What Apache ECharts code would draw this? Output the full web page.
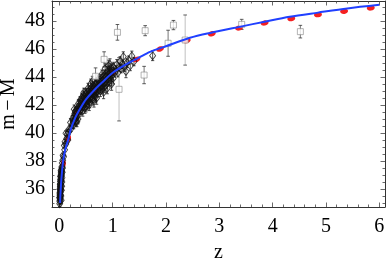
<!DOCTYPE html>
<html><head><meta charset="utf-8">
<script src="https://cdn.jsdelivr.net/npm/echarts@6/dist/echarts.min.js"></script>
<style>html,body{margin:0;padding:0;background:#fff}#c{width:389px;height:259px}</style>
</head><body><div id="c"></div>
<script>
// ---- tick positions ----
const xTicks = [0, 1, 2, 3, 4, 5, 6];
const xMinorTicks = [0.2,0.4,0.6,0.8,1.2,1.4,1.6,1.8,2.2,2.4,2.6,2.8,3.2,3.4,3.6,3.8,4.2,4.4,4.6,4.8,5.2,5.4,5.6,5.8];
const yTicks = [36, 38, 40, 42, 44, 46, 48];
const yMinorTicks = [35,35.5,36.5,37,37.5,38.5,39,39.5,40.5,41,41.5,42.5,43,43.5,44.5,45,45.5,46.5,47,47.5,48.5,49];

// ---- model curve (blue) ----
const modelZ  = [0.015,0.02,0.026,0.035,0.05,0.064,0.08,0.107,0.14,0.17,0.21,0.3,0.4,0.5,0.64,0.8,1.0,1.25,1.5,1.7,2.0,2.45,2.83,3.4,3.85,4.32,4.85,5.4,6.0];
const modelMu = [35.0,35.5,35.9,36.5,37.2,37.75,38.2,38.75,39.2,39.55,40.2,41.1,41.8,42.4,43.0,43.6,44.3,44.9,45.4,45.8,46.2,46.8,47.15,47.6,47.95,48.3,48.6,48.9,49.16];

// ---- red dashed-model marks ----
const redZ  = [0.026,0.075,0.17,0.34,0.64,1.0,1.45,1.89,2.39,2.86,3.37,3.85,4.35,4.85,5.34,5.84];
const redMu = [35.9,37.8,39.6,41.45,43.0,44.3,45.26,46.0,46.6,47.09,47.5,47.86,48.17,48.45,48.69,48.93];

// ---- SN Ia points [z, m-M, error] ----
const snPoints = [
[0.008,34.95,0.2],[0.01,35.1,0.2],[0.011,35.35,0.18],[0.012,35.2,0.2],[0.013,35.55,0.18],[0.014,35.4,0.18],[0.015,35.75,0.17],[0.016,35.6,0.17],
[0.017,35.95,0.16],[0.018,35.8,0.16],[0.019,36.15,0.16],[0.02,36.0,0.15],[0.021,36.35,0.15],[0.022,36.2,0.15],[0.023,36.55,0.15],[0.024,36.4,0.15],
[0.026,36.7,0.15],[0.027,36.55,0.15],[0.029,36.85,0.15],[0.03,36.7,0.15],[0.032,37.0,0.15],[0.034,36.9,0.15],[0.036,37.2,0.15],[0.038,37.1,0.15],
[0.04,37.35,0.15],[0.043,37.25,0.15],[0.046,37.5,0.15],[0.05,37.6,0.15],[0.012,35.7,0.2],[0.015,35.3,0.2],[0.018,36.3,0.16],[0.022,35.9,0.15],
[0.025,36.9,0.15],[0.028,36.3,0.15],[0.033,37.3,0.15],[0.009,35.4,0.2],[0.02,35.55,0.15],[0.016,36.05,0.15],[0.035,36.6,0.15],[0.042,37.0,0.15],
[0.045,36.2,0.15],[0.05,36.8,0.15],[0.055,37.2,0.15],[0.04,35.9,0.15],[0.03,35.5,0.15],[0.048,36.5,0.15],[0.06,37.5,0.15],[0.035,35.2,0.2],
[0.055,37.85,0.15],[0.064,38.05,0.15],[0.07,38.4,0.15],[0.08,38.3,0.15],[0.094,39.1,0.15],[0.1,38.8,0.15],[0.107,39.38,0.15],[0.12,39.2,0.18],
[0.125,39.98,0.18],[0.14,39.6,0.2],[0.15,39.9,0.2],[0.16,39.5,0.2],[0.17,40.05,0.2],[0.19,40.3,0.2],[0.21,40.74,0.3],[0.22,40.3,0.2],
[0.24,40.6,0.25],[0.25,41.0,0.25],[0.31,40.8,0.35],
[0.26,40.8,0.25],[0.27,41.2,0.25],[0.28,40.9,0.3],[0.29,41.4,0.25],[0.3,41.0,0.3],[0.31,41.3,0.25],[0.32,41.6,0.3],[0.33,41.2,0.3],
[0.34,41.5,0.25],[0.35,41.8,0.3],[0.36,41.3,0.3],[0.37,41.7,0.25],[0.38,42.0,0.3],[0.39,41.6,0.3],[0.4,41.9,0.3],
[0.28,41.7,0.3],[0.33,40.8,0.35],[0.36,42.1,0.3],[0.3,41.55,0.25],[0.27,40.6,0.3],[0.35,41.0,0.35],[0.39,42.3,0.3],
[0.41,42.2,0.3],[0.42,41.7,0.35],[0.43,42.0,0.3],[0.44,42.4,0.3],[0.45,41.9,0.3],[0.46,42.2,0.3],[0.47,42.6,0.3],[0.48,42.1,0.3],
[0.49,42.4,0.3],[0.5,42.8,0.35],[0.5,42.2,0.3],[0.51,42.5,0.3],[0.52,42.0,0.35],[0.53,42.7,0.3],[0.54,42.4,0.3],[0.55,43.0,0.35],
[0.55,42.3,0.3],[0.56,42.6,0.3],[0.57,42.9,0.3],[0.58,42.5,0.3],[0.59,42.8,0.3],[0.6,43.2,0.35],[0.6,42.6,0.3],[0.61,42.9,0.3],
[0.62,43.1,0.3],[0.62,42.5,0.35],[0.63,43.4,0.3],[0.64,42.8,0.3],[0.65,43.0,0.3],[0.66,43.3,0.3],[0.66,42.7,0.35],[0.67,43.1,0.3],
[0.68,43.5,0.35],[0.69,42.9,0.3],[0.7,43.2,0.3],[0.7,43.6,0.35],[0.71,42.9,0.35],[0.72,43.4,0.3],[0.73,43.1,0.3],[0.74,43.7,0.35],[0.75,43.3,0.3],
[0.42,42.5,0.3],[0.45,42.7,0.3],[0.48,41.8,0.4],[0.52,42.9,0.3],[0.57,42.2,0.4],[0.63,42.4,0.4],[0.68,42.6,0.4],[0.72,43.8,0.35],[0.46,42.9,0.3],
[0.44,41.6,0.4],[0.5,41.9,0.4],[0.54,43.2,0.35],[0.59,43.5,0.35],[0.65,42.3,0.45],[0.7,42.5,0.45],[0.62,43.7,0.35],[0.56,42.0,0.4],
[0.76,43.6,0.3],[0.77,43.0,0.4],[0.78,43.9,0.3],[0.79,43.4,0.3],[0.8,43.7,0.3],[0.81,43.2,0.4],[0.82,44.0,0.3],[0.83,43.5,0.3],
[0.84,43.9,0.3],[0.85,43.3,0.4],[0.86,44.2,0.3],[0.87,43.7,0.3],[0.88,44.0,0.3],[0.89,43.5,0.35],[0.9,44.4,0.35],[0.91,43.9,0.3],
[0.92,44.2,0.3],[0.93,43.7,0.35],[0.94,44.5,0.35],[0.95,44.0,0.3],[0.96,44.3,0.3],[0.97,43.8,0.4],[0.98,44.6,0.35],[0.99,44.1,0.3],
[1.0,44.4,0.3],[1.01,43.9,0.4],[1.02,44.7,0.35],[1.04,44.3,0.3],
[0.8,44.2,0.3],[0.9,43.2,0.4],[0.95,44.9,0.4],[0.86,44.6,0.35],[0.78,43.3,0.4],[0.83,42.9,0.45],[0.92,44.8,0.4],[0.98,43.5,0.45],
[1.06,44.5,0.3],[1.08,44.9,0.35],[1.1,44.3,0.3],[1.12,44.7,0.3],[1.14,45.1,0.35],[1.16,44.6,0.3],[1.18,44.9,0.3],[1.2,45.45,0.35],
[1.22,44.7,0.3],[1.25,44.4,0.45],[1.27,45.0,0.3],[1.3,45.2,0.3],[1.33,44.8,0.35],[1.36,45.5,0.35],[1.4,45.1,0.3],[1.75,45.52,0.35]
];

// ---- GRB points [z, m-M, error] ----
const grbPoints = [
[1.09,47.19,0.56],[1.61,47.31,0.36],[2.14,47.71,0.33],[2.04,46.41,0.93],[2.36,46.64,1.79],[0.84,45.26,0.54],
[1.59,44.14,0.62],[1.12,43.12,2.26],[3.42,47.76,0.36],[4.52,47.24,0.45],[0.68,44.05,0.6]
];

const font = 'Liberation Serif, Times New Roman, serif';
const xMin = -0.137, xMax = 6.107, yMin = 34.71, yMax = 49.43;
const frameColor = '#333';

function xAxisDef(pos, ticks, len, showLine, labels) {
  return {
    type: 'value', gridIndex: 0, position: pos, min: xMin, max: xMax,
    axisLine: { show: showLine, onZero: false, lineStyle: { color: frameColor, width: 1 } },
    axisTick: { show: true, inside: true, length: len, customValues: ticks, lineStyle: { color: '#444', width: 0.8 } },
    axisLabel: labels ? { show: true, customValues: ticks, margin: 10, fontFamily: font, fontSize: 20, color: '#000' } : { show: false },
    splitLine: { show: false }, minorTick: { show: false }
  };
}
function yAxisDef(pos, ticks, len, showLine, labels) {
  return {
    type: 'value', gridIndex: 0, position: pos, min: yMin, max: yMax,
    axisLine: { show: showLine, onZero: false, lineStyle: { color: frameColor, width: 1 } },
    axisTick: { show: true, inside: true, length: len, customValues: ticks, lineStyle: { color: '#444', width: 0.8 } },
    axisLabel: labels ? { show: true, customValues: ticks, margin: 7, fontFamily: font, fontSize: 20, color: '#000' } : { show: false },
    splitLine: { show: false }, minorTick: { show: false }
  };
}

const xAxes = [
  Object.assign(xAxisDef('bottom', xTicks, 4.5, true, true), { name: 'z', nameLocation: 'middle', nameGap: 36, nameMoveOverlap: false, nameTextStyle: { fontFamily: font, fontSize: 20, color: '#000' } }),
  xAxisDef('bottom', xMinorTicks, 2.5, false, false),
  xAxisDef('top', xTicks, 4.5, true, false),
  xAxisDef('top', xMinorTicks, 2.5, false, false)
];
const yAxes = [
  Object.assign(yAxisDef('left', yTicks, 4.5, true, true), { name: 'm\u2006\u2212\u2006M', nameLocation: 'middle', nameGap: 33, nameMoveOverlap: false, nameTextStyle: { fontFamily: font, fontSize: 20, color: '#000' } }),
  yAxisDef('left', yMinorTicks, 2.5, false, false),
  yAxisDef('right', yTicks, 4.5, true, false),
  yAxisDef('right', yMinorTicks, 2.5, false, false)
];

function errBar(barColorFn, capColor, capW) {
  return function (params, api) {
    const x = api.value(0), y = api.value(1), e = api.value(2);
    const t = api.coord([x, y + e]), b = api.coord([x, y - e]);
    const c = barColorFn(e);
    const lw = 0.8;
    return { type: 'group', children: [
      { type: 'line', shape: { x1: t[0], y1: t[1], x2: b[0], y2: b[1] }, style: { stroke: c, lineWidth: lw } },
      { type: 'line', shape: { x1: t[0] - capW, y1: t[1], x2: t[0] + capW, y2: t[1] }, style: { stroke: capColor, lineWidth: lw } },
      { type: 'line', shape: { x1: b[0] - capW, y1: b[1], x2: b[0] + capW, y2: b[1] }, style: { stroke: capColor, lineWidth: lw } }
    ] };
  };
}

const chart = echarts.init(document.getElementById('c'), null, { renderer: 'canvas' });
chart.setOption({
  animation: false,
  backgroundColor: '#fff',
  grid: { left: 52, right: 4, top: 1, bottom: 52, containLabel: false, outerBoundsMode: 'none' },
  xAxis: xAxes,
  yAxis: yAxes,
  series: [
    { type: 'custom', name: 'snErr', xAxisIndex: 0, yAxisIndex: 0, clip: true,
      data: snPoints, encode: { x: 0, y: 1 },
      renderItem: errBar(function () { return '#222'; }, '#222', 1.6) },
    { type: 'scatter', name: 'SN', xAxisIndex: 0, yAxisIndex: 0, clip: true,
      data: snPoints.map(p => [p[0], p[1]]),
      symbol: 'diamond', symbolSize: [6, 8],
      itemStyle: { color: 'rgba(0,0,0,0)', borderColor: '#111', borderWidth: 0.9 } },
    { type: 'custom', name: 'grbErr', xAxisIndex: 0, yAxisIndex: 0, clip: true,
      data: grbPoints, encode: { x: 0, y: 1 },
      renderItem: errBar(function (e) { return e > 1.5 ? '#b0b0b0' : '#555'; }, '#333', 1.8) },
    { type: 'scatter', name: 'GRB', xAxisIndex: 0, yAxisIndex: 0, clip: true,
      data: grbPoints.map(p => [p[0], p[1]]),
      symbol: 'rect', symbolSize: 6,
      itemStyle: { color: '#fff', borderColor: '#888', borderWidth: 0.8 } },
    { type: 'line', name: 'model', xAxisIndex: 0, yAxisIndex: 0, clip: true,
      data: modelZ.map((z, i) => [z, modelMu[i]]), smooth: 0.3, showSymbol: false,
      lineStyle: { color: '#2040ff', width: 2 } },
    { type: 'custom', name: 'red', xAxisIndex: 0, yAxisIndex: 0, clip: true,
      data: redZ.map((z, i) => [z, redMu[i]]), encode: { x: 0, y: 1 },
      renderItem: function (params, api) {
        const i = params.dataIndex, n = redZ.length;
        const p = api.coord([redZ[i], redMu[i]]);
        const a = api.coord([redZ[Math.max(i - 1, 0)], redMu[Math.max(i - 1, 0)]]);
        const b = api.coord([redZ[Math.min(i + 1, n - 1)], redMu[Math.min(i + 1, n - 1)]]);
        const ang = Math.atan2(-(b[1] - a[1]), b[0] - a[0]);
        return { type: 'ellipse', x: p[0], y: p[1], rotation: ang,
          shape: { cx: 0, cy: 0, rx: 4, ry: 2.6 }, style: { fill: '#f52020' } };
      } }
  ]
});
</script>
</body></html>
